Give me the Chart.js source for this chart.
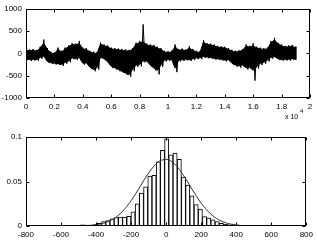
<!DOCTYPE html>
<html>
<head>
<meta charset="utf-8">
<script src="https://cdn.jsdelivr.net/npm/chart.js@4.4.0/dist/chart.umd.min.js"></script>
<style>
  html, body { margin: 0; padding: 0; background: #fff; }
  #wrap { position: relative; width: 317px; height: 245px; overflow: hidden; }
  canvas { position: absolute; left: 0; }
  #signal { top: 0; }
  #histo { top: 125px; }
</style>
</head>
<body>
<div id="wrap">
  <canvas id="signal" width="317" height="125"></canvas>
  <canvas id="histo" width="317" height="120"></canvas>
</div>
<script>
// === signal envelope, one pair every 250 samples ===
const sampleStep = 250;
const envelopeHigh = [
  100, 90, 100, 80, 150, 310, 120, 40, 20, 130, 60, 130,
  180, 230, 220, 280, 130, 120, 60, 40, 30, 240, 200, 180,
  130, 120, 110, 100, 90, 80, 120, 240, 280, 650, 220, 200,
  190, 150, 120, 60, 50, 60, 200, 100, 110, 90, 160, 100,
  60, 50, 290, 230, 220, 200, 170, 160, 150, 120, 80, 60,
  70, 100, 200, 170, 230, 150, 130, 120, 130, 280, 350, 240,
  200, 170, 180, 190, 150
];
const envelopeLow = [
  -150, -170, -160, -170, -120, -90, -210, -240, -250, -260, -280, -230,
  -200, -130, -150, -120, -250, -240, -350, -400, -360, -110, -150, -220,
  -330, -360, -400, -440, -480, -520, -400, -300, -290, -200, -200, -300,
  -380, -470, -300, -180, -170, -160, -420, -180, -170, -160, -170, -150,
  -130, -130, -100, -110, -120, -140, -150, -160, -180, -170, -250, -300,
  -320, -300, -360, -350, -610, -340, -260, -230, -180, -120, -100, -150,
  -170, -160, -160, -150, -140
];
// the dense core of the band, where most samples sit
const coreHigh = [
  70, 60, 70, 50, 120, 230, 90, 10, -10, 90, 30, 100,
  150, 200, 190, 220, 100, 90, 30, 10, 0, 210, 170, 150,
  100, 90, 80, 70, 60, 50, 90, 210, 240, 260, 190, 170,
  160, 120, 90, 30, 20, 30, 150, 70, 80, 60, 120, 70,
  30, 20, 250, 200, 190, 170, 140, 130, 120, 90, 50, 30,
  40, 70, 160, 140, 170, 120, 100, 90, 100, 240, 300, 210,
  170, 140, 150, 160, 120
];
const coreLow = [
  -120, -140, -130, -140, -90, -60, -180, -210, -220, -230, -250, -200,
  -170, -100, -120, -90, -220, -210, -310, -360, -320, -80, -120, -190,
  -290, -320, -360, -400, -440, -480, -360, -260, -250, -170, -170, -260,
  -330, -380, -260, -150, -140, -130, -330, -150, -140, -130, -140, -120,
  -100, -100, -70, -80, -90, -110, -120, -130, -150, -140, -220, -260,
  -280, -260, -320, -310, -380, -300, -220, -200, -150, -90, -70, -120,
  -140, -130, -130, -120, -110
];
const signalXTicks = [0, 0.2, 0.4, 0.6, 0.8, 1, 1.2, 1.4, 1.6, 1.8, 2]; // x 10^4
const signalYTicks = [-1000, -500, 0, 500, 1000];

// === histogram + fitted curve ===
const binCenters = [
  -525, -501, -477, -453, -429, -405, -381, -357, -333, -309,
  -285, -261, -237, -213, -189, -165, -141, -117, -93, -69,
  -45, -21, 3, 27, 51, 75, 99, 123, 147, 171,
  195, 219, 243, 267, 291, 315, 339, 363, 387, 411
];
const binHeights = [
  0.0004, 0.0006, 0.0012, 0.001, 0.0008, 0.0015, 0.003, 0.005, 0.006, 0.008,
  0.0095, 0.010, 0.010, 0.011, 0.016, 0.025, 0.037, 0.044, 0.056, 0.057,
  0.072, 0.085, 0.098, 0.080, 0.082, 0.075, 0.055, 0.046, 0.034, 0.024,
  0.019, 0.0105, 0.009, 0.007, 0.005, 0.003, 0.002, 0.0012, 0.0006, 0.0002
];
const curveX = [
  -800, -750, -700, -650, -600, -550, -500, -450, -400, -350, -300, -250, -200,
  -150, -100, -50, 0, 50, 100, 150, 200, 250, 300, 350, 400, 450, 500,
  550, 600, 650, 700, 750, 800
];
const curveY = [
  0, 0, 0, 0, 0, 0, 0.0001, 0.0005, 0.0014, 0.0036, 0.0081, 0.0162, 0.0284,
  0.0439, 0.0596, 0.0712, 0.0749, 0.0694, 0.0566, 0.0406, 0.0257, 0.0143, 0.0070, 0.0030, 0.0011, 0.0004, 0.0001,
  0, 0, 0, 0, 0, 0
];
const histXTicks = [-800, -600, -400, -200, 0, 200, 400, 600, 800];
const histYTicks = [0, 0.05, 0.1];

const tickFont = { family: "'Liberation Sans', Arial, sans-serif", size: 8 };

// box + inward ticks like the matlab axes
const matlabAxes = {
  id: "matlabAxes",
  afterDatasetsDraw(chart, args, opts) {
    const { ctx, chartArea: a, scales } = chart;
    const L = Math.round(a.left) + 0.5, R = Math.round(a.right) - 0.5;
    const T = Math.round(a.top) + 0.5, B = Math.round(a.bottom) - 0.5;
    ctx.save();
    ctx.strokeStyle = "#000";
    ctx.lineWidth = 1;
    ctx.strokeRect(L, T, R - L, B - T);
    const len = 3;
    ctx.beginPath();
    scales.x.ticks.forEach((t) => {
      const px = Math.round(scales.x.getPixelForValue(t.value)) + 0.5;
      ctx.moveTo(px, B); ctx.lineTo(px, B - len);
      ctx.moveTo(px, T); ctx.lineTo(px, T + len);
    });
    scales.y.ticks.forEach((t) => {
      const py = Math.round(scales.y.getPixelForValue(t.value)) + 0.5;
      ctx.moveTo(L, py); ctx.lineTo(L + len, py);
      ctx.moveTo(R, py); ctx.lineTo(R - len, py);
    });
    ctx.stroke();
    if (opts.exponent) {
      ctx.fillStyle = "#000";
      ctx.textBaseline = "alphabetic";
      ctx.font = "7px 'Liberation Sans', Arial, sans-serif";
      ctx.fillText("x 10", 285, 119);
      ctx.font = "6px 'Liberation Sans', Arial, sans-serif";
      ctx.fillText(opts.exponent, 300, 113);
    }
    ctx.restore();
  },
};

function axisOptions(xTicks, yTicks, xMin, xMax, yMin, yMax, xScaleBy, xHeight) {
  return {
    x: {
      type: "linear",
      min: xMin,
      max: xMax,
      offset: false,
      afterBuildTicks: (s) => { s.ticks = xTicks.map((v) => ({ value: v * xScaleBy })); },
      afterFit: (s) => { s.height = xHeight; },
      ticks: { font: tickFont, color: "#000", padding: 4, maxRotation: 0, autoSkip: false,
               callback: (v) => String(Math.round(v / xScaleBy * 100) / 100) },
      grid: { display: false, drawTicks: false },
      border: { display: false },
    },
    y: {
      type: "linear",
      min: yMin,
      max: yMax,
      afterBuildTicks: (s) => { s.ticks = yTicks.map((v) => ({ value: v })); },
      afterFit: (s) => { s.width = 26; },
      ticks: { font: tickFont, color: "#000", padding: 4, autoSkip: false,
               callback: (v) => String(v) },
      grid: { display: false, drawTicks: false },
      border: { display: false },
    },
  };
}

// === top: raw signal, solid core plus spiky zigzag out to the envelope ===
const signalPoints = [];
envelopeHigh.forEach((hi, i) => {
  const x = i * sampleStep;
  signalPoints.push({ x: x, y: hi });
  const xl = i === envelopeHigh.length - 1 ? x : x + sampleStep / 2;
  signalPoints.push({ x: xl, y: envelopeLow[i] });
});
const corePts = (arr) => arr.map((v, i) => ({ x: i * sampleStep, y: v }));

new Chart(document.getElementById("signal"), {
  type: "line",
  data: {
    datasets: [
      {
        data: corePts(coreHigh),
        borderColor: "#000",
        backgroundColor: "#000",
        borderWidth: 1,
        pointRadius: 0,
        tension: 0,
        fill: "+1",
      },
      {
        data: corePts(coreLow),
        borderColor: "#000",
        borderWidth: 1,
        pointRadius: 0,
        tension: 0,
        fill: false,
      },
      {
        data: signalPoints,
        borderColor: "#000",
        borderWidth: 1,
        pointRadius: 0,
        tension: 0,
        fill: false,
      },
    ],
  },
  options: {
    responsive: false,
    animation: false,
    layout: { padding: { left: 0, right: 7, top: 8, bottom: 0 } },
    plugins: { legend: { display: false }, tooltip: { enabled: false }, matlabAxes: { exponent: "4" } },
    scales: axisOptions(signalXTicks, signalYTicks, 0, 20000, -1000, 1000, 10000, 27),
  },
  plugins: [matlabAxes],
});

// === bottom: histogram with fitted normal curve ===
new Chart(document.getElementById("histo"), {
  type: "bar",
  data: {
    datasets: [
      {
        type: "line",
        data: curveX.map((x, i) => ({ x: x, y: curveY[i] })),
        borderColor: "#333",
        borderWidth: 1,
        pointRadius: 0,
        cubicInterpolationMode: "monotone",
        order: 1,
      },
      {
        type: "bar",
        data: binCenters.map((x, i) => ({ x: x, y: binHeights[i] })),
        backgroundColor: "#fff",
        borderColor: "#000",
        borderWidth: 1,
        barPercentage: 1,
        categoryPercentage: 1,
        order: 2,
      },
    ],
  },
  options: {
    responsive: false,
    animation: false,
    layout: { padding: { left: 0, right: 7, top: 12, bottom: 0 } },
    plugins: { legend: { display: false }, tooltip: { enabled: false }, matlabAxes: {} },
    scales: axisOptions(histXTicks, histYTicks, -800, 800, 0, 0.1, 1, 19),
  },
  plugins: [matlabAxes],
});
</script>
</body>
</html>
